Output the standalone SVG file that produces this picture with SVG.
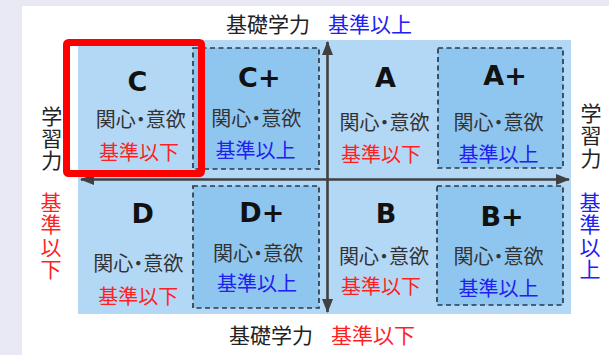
<svg xmlns="http://www.w3.org/2000/svg" width="609" height="355" viewBox="0 0 609 355">
<defs>
<style>
.g{font-family:"DejaVu Sans","Liberation Sans",sans-serif;font-weight:bold;font-size:27px;fill:#111;text-anchor:middle}
.l{font-family:"Noto Sans CJK JP","Noto Sans",sans-serif;font-size:20px;fill:#333;text-anchor:middle}
.s{font-family:"Noto Sans CJK JP","Noto Sans",sans-serif;font-size:20px;text-anchor:middle}
.ax{font-family:"Noto Sans CJK JP","Noto Sans",sans-serif;font-size:21px}
.v{font-family:"Noto Sans CJK JP","Noto Sans",sans-serif;font-size:21px;writing-mode:vertical-rl;text-orientation:upright}
.k{fill:#222}
.r{fill:#ff1f1f}
.b{fill:#2020f0}
.box{fill:#8fc6f0;stroke:#2c3a48;stroke-width:1.7;stroke-dasharray:5 3.5}
.axis{stroke:#404040;stroke-width:2.6;fill:none}
</style>
<marker id="ah" viewBox="0 0 14 11" refX="13" refY="5.5" markerWidth="14" markerHeight="11" markerUnits="userSpaceOnUse" orient="auto-start-reverse">
<path d="M0,0 L14,5.5 L0,11 z" fill="#404040"/>
</marker>
</defs>
<rect x="0" y="0" width="609" height="355" fill="#e9e9f5"/>
<rect x="22" y="6" width="587" height="349" fill="#ffffff"/>
<rect id="field" x="78" y="40" width="493" height="274" fill="#b3d8f6"/>

<g id="C">
<text class="g" x="137.5" y="91">C</text>
<text class="l" x="140.8" y="126.5" dx="0 0 -5 -5 0">関心・意欲</text>
<text class="s r" x="139" y="160">基準以下</text>
</g>
<g id="Cplus">
<rect class="box" x="193" y="48" width="126" height="121"/>
<text class="g" x="259.3" y="87">C+</text>
<text class="l" x="256.3" y="125.5" dx="0 0 -5 -5 0">関心・意欲</text>
<text class="s b" x="255.5" y="158">基準以上</text>
</g>
<g id="A">
<text class="g" x="385.5" y="87">A</text>
<text class="l" x="384.5" y="130" dx="0 0 -5 -5 0">関心・意欲</text>
<text class="s r" x="381" y="161.5">基準以下</text>
</g>
<g id="Aplus">
<rect class="box" x="438" y="48" width="125" height="120"/>
<text class="g" x="505" y="85">A+</text>
<text class="l" x="498.5" y="130" dx="0 0 -5 -5 0">関心・意欲</text>
<text class="s b" x="498.5" y="162">基準以上</text>
</g>
<g id="D">
<text class="g" x="142.8" y="223">D</text>
<text class="l" x="138.3" y="270.5" dx="0 0 -5 -5 0">関心・意欲</text>
<text class="s r" x="138.3" y="304">基準以下</text>
</g>
<g id="Dplus">
<rect class="box" x="193" y="186" width="126" height="122"/>
<text class="g" x="261.8" y="222">D+</text>
<text class="l" x="258" y="260.5" dx="0 0 -5 -5 0">関心・意欲</text>
<text class="s b" x="257" y="291">基準以上</text>
</g>
<g id="B">
<text class="g" x="386" y="223">B</text>
<text class="l" x="384" y="264" dx="0 0 -5 -5 0">関心・意欲</text>
<text class="s r" x="381" y="294">基準以下</text>
</g>
<g id="Bplus">
<rect class="box" x="437" y="186" width="126" height="119"/>
<text class="g" x="502" y="226">B+</text>
<text class="l" x="498.5" y="264" dx="0 0 -5 -5 0">関心・意欲</text>
<text class="s b" x="498.5" y="295.5">基準以上</text>
</g>

<g id="connectors">
<line class="axis" x1="327.5" y1="312" x2="327.5" y2="42" marker-start="url(#ah)" marker-end="url(#ah)"/>
<line class="axis" x1="81" y1="179.5" x2="569" y2="179.5" marker-start="url(#ah)" marker-end="url(#ah)"/>
</g>

<g id="axis-labels">
<text class="ax k" x="226" y="32">基礎学力</text>
<text class="ax b" x="328" y="32">基準以上</text>
<text class="ax k" x="229" y="343">基礎学力</text>
<text class="ax r" x="331" y="343">基準以下</text>
<text class="v k" x="51.7" y="105.5" letter-spacing="1">学習力</text>
<text class="v r" x="51" y="191.5" letter-spacing="1.4">基準以下</text>
<text class="v k" x="591" y="102.5" letter-spacing="1.5">学習力</text>
<text class="v b" x="590" y="191.5" letter-spacing="1.4">基準以上</text>
</g>

<rect id="highlight" x="66.5" y="42.5" width="135" height="131" rx="2" fill="none" stroke="#ff0000" stroke-width="7"/>
</svg>
